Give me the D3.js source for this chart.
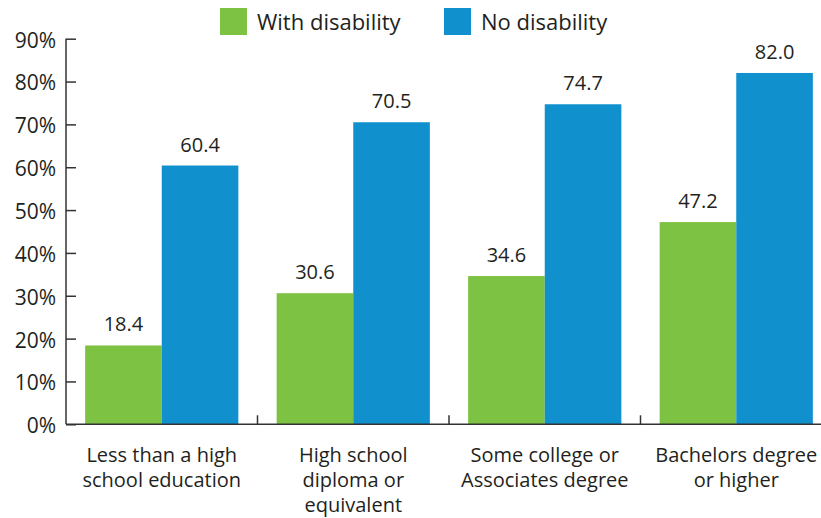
<!DOCTYPE html>
<html><head><meta charset="utf-8">
<script src="https://cdn.jsdelivr.net/npm/d3@7"></script>
<style>
html,body{margin:0;padding:0;background:#fff;}
text{font-family:"Open Sans",sans-serif;fill:#231F20;}
</style></head>
<body>
<svg id="chart" width="821" height="518"></svg>
<script>
const categories = [
  ["Less than a high", "school education"],
  ["High school", "diploma or", "equivalent"],
  ["Some college or", "Associates degree"],
  ["Bachelors degree", "or higher"]
];
const seriesNames = ["With disability", "No disability"];
const withDisability = [18.4, 30.6, 34.6, 47.2];
const noDisability = [60.4, 70.5, 74.7, 82.0];
const yTicks = [0, 10, 20, 30, 40, 50, 60, 70, 80, 90];
const colors = ["#7DC242", "#1190CE"];

(function () {
const svg = d3.select("#chart");
const mLeft = 66, mRight = 832, mTop = 38.7, mBottom = 424.3;
const idx = d3.range(categories.length);
const x0 = d3.scaleBand().domain(idx).range([mLeft, mRight]).padding(0);
const x1 = d3.scaleBand().domain([0, 1]).range([x0.bandwidth() * 0.1, x0.bandwidth() * 0.9]).padding(0);
const y = d3.scaleLinear().domain([0, 90]).range([mBottom, mTop]);

const data = idx.map(i => ({i, vals: [withDisability[i], noDisability[i]]}));

const g = svg.selectAll("g.grp").data(data).enter().append("g")
  .attr("transform", d => `translate(${x0(d.i)},0)`);
g.selectAll("rect").data(d => d.vals.map((v, k) => ({v, k}))).enter().append("rect")
  .attr("x", d => x1(d.k)).attr("width", x1.bandwidth())
  .attr("y", d => y(d.v)).attr("height", d => y(0) - y(d.v))
  .attr("fill", d => colors[d.k]);
g.selectAll("text.val").data(d => d.vals.map((v, k) => ({v, k}))).enter().append("text")
  .attr("class", "val")
  .attr("x", d => x1(d.k) + x1.bandwidth() / 2).attr("y", d => y(d.v) - 14)
  .attr("text-anchor", "middle").style("font-size", "20px")
  .text(d => d.v.toFixed(1));

// Y axis
const yAxis = d3.axisRight(y).tickValues(yTicks).tickSize(10).tickFormat(d => d + "%");
const ya = svg.append("g").attr("transform", `translate(${mLeft},0)`).call(yAxis);
ya.select(".domain").remove();
ya.selectAll(".tick line").attr("stroke", "#333").attr("stroke-width", 1.5);
ya.selectAll(".tick text").attr("x", -10).attr("dy", "0.4em").attr("text-anchor", "end")
  .style("font-size", "21px").style("font-family", "'Open Sans',sans-serif").attr("fill", "#231F20");
svg.append("line").attr("x1", mLeft).attr("x2", mLeft).attr("y1", mTop).attr("y2", mBottom)
  .attr("stroke", "#333").attr("stroke-width", 1.5);
svg.append("line").attr("x1", mLeft).attr("x2", mRight).attr("y1", mBottom).attr("y2", mBottom)
  .attr("stroke", "#333").attr("stroke-width", 1.5);

// X separators
svg.selectAll("line.sep").data(idx.slice(1)).enter().append("line")
  .attr("class", "sep")
  .attr("x1", d => x0(d)).attr("x2", d => x0(d))
  .attr("y1", mBottom).attr("y2", mBottom - 9)
  .attr("stroke", "#333").attr("stroke-width", 1.5);

// Category labels
const cl = svg.selectAll("text.cat").data(idx).enter().append("text")
  .attr("class", "cat").attr("text-anchor", "middle").style("font-size", "20px");
cl.selectAll("tspan").data(d => categories[d].map(t => ({t, i: d}))).enter().append("tspan")
  .attr("x", d => x0(d.i) + x0.bandwidth() / 2)
  .attr("y", (d, j) => 461.7 + j * 25)
  .text(d => d.t);

// Legend
const legX = [220, 444];
const lg = svg.selectAll("g.leg").data(seriesNames).enter().append("g")
  .attr("transform", (d, k) => `translate(${legX[k]},8)`);
lg.append("rect").attr("width", 27).attr("height", 27).attr("fill", (d, k) => colors[k]);
lg.append("text").attr("x", 37).attr("y", 22).style("font-size", "22px").text(d => d);
})();
</script>
</body></html>
